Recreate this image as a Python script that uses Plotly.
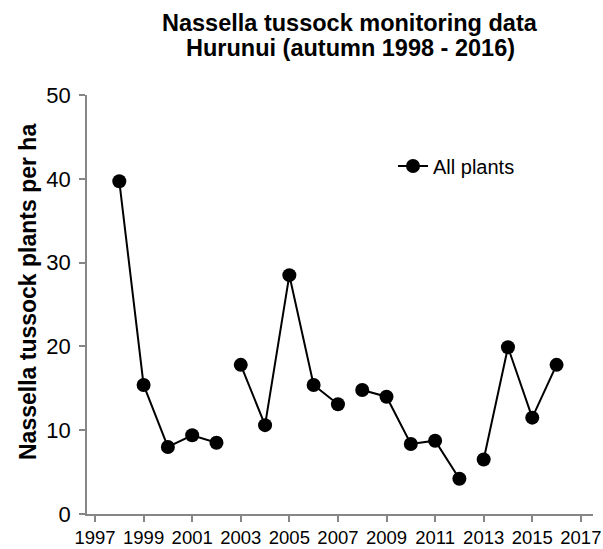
import plotly.graph_objects as go

years = [1998, 1999, 2000, 2001, 2002, 2003, 2004, 2005, 2006, 2007,
         2008, 2009, 2010, 2011, 2012, 2013, 2014, 2015, 2016]
plants = [39.7, 15.4, 8.0, 9.4, 8.5, 17.8, 10.6, 28.5, 15.4, 13.1,
          14.8, 14.0, 8.35, 8.75, 4.2, 6.5, 19.9, 11.5, 17.8]
# survey run each point belongs to (line is broken between runs)
segment = [0, 0, 0, 0, 0, 1, 1, 1, 1, 1, 2, 2, 2, 2, 2, 3, 3, 3, 3]
x_ticks = list(range(1997, 2018, 2))
y_ticks = [0, 10, 20, 30, 40, 50]
title_lines = ["Nassella tussock monitoring data", "Hurunui (autumn 1998 - 2016)"]
y_title = "Nassella tussock plants per ha"

FONT = "Liberation Sans, Arial, sans-serif"
W, H = 603, 549
L, R, T, B = 87, 593, 95, 514  # plot area in page pixels
PW, PH = R - L, B - T

fig = go.Figure()
for s in sorted(set(segment)):
    xs = [y for y, g in zip(years, segment) if g == s]
    vs = [v for v, g in zip(plants, segment) if g == s]
    fig.add_trace(go.Scatter(
        x=xs, y=vs, mode="lines+markers", name="All plants",
        line=dict(color="black", width=2),
        marker=dict(color="black", size=14),
        legendgroup="all", showlegend=(s == 0),
    ))

def px_x(p):
    return (p - L) / PW

def px_y(p):
    return (B - p) / PH

for line, ypx in zip(title_lines, [23, 48]):
    fig.add_annotation(text=f"<b>{line}</b>", xref="paper", yref="paper",
                       x=px_x(350), y=px_y(ypx), xanchor="center",
                       yanchor="middle", showarrow=False, borderpad=0,
                       font=dict(size=23.5, family=FONT, color="black"))

fig.add_annotation(text=f"<b>{y_title}</b>", xref="paper", yref="paper",
                   x=px_x(28), y=px_y(292), xanchor="center",
                   yanchor="middle", textangle=-90, showarrow=False,
                   font=dict(size=23, family=FONT, color="black"))

fig.update_layout(
    width=W, height=H,
    margin=dict(l=L, r=W - R, t=T, b=H - B),
    paper_bgcolor="white", plot_bgcolor="white",
    font=dict(family=FONT, color="black"),
    showlegend=True,
    legend=dict(x=px_x(393), y=px_y(166), xanchor="left", yanchor="middle",
                font=dict(size=20, family=FONT), bgcolor="rgba(0,0,0,0)"),
    xaxis=dict(
        range=[1996.67, 2017.5], tickvals=x_ticks,
        ticktext=[str(t) for t in x_ticks],
        showgrid=False, zeroline=False, automargin=False,
        ticklabeloverflow="allow",
        showline=True, linecolor="#868686", linewidth=1.5,
        ticks="outside", ticklen=6, tickcolor="#868686", tickwidth=1.5,
        tickfont=dict(size=18.5, family=FONT, color="black"),
    ),
    yaxis=dict(
        range=[0, 50], tickvals=y_ticks,
        showgrid=False, zeroline=False, automargin=False,
        showline=True, linecolor="#868686", linewidth=1.5,
        ticks="outside", ticklen=6, tickcolor="#868686", tickwidth=1.5,
        tickfont=dict(size=22, family=FONT, color="black"),
        ticklabelstandoff=4,
    ),
)

fig.write_html(
    "out.html",
    config={"displayModeBar": False},
    post_script=("document.body.style.margin='0';"
                 "document.documentElement.style.overflow='hidden';"
                 "document.body.style.overflow='hidden';"),
)
